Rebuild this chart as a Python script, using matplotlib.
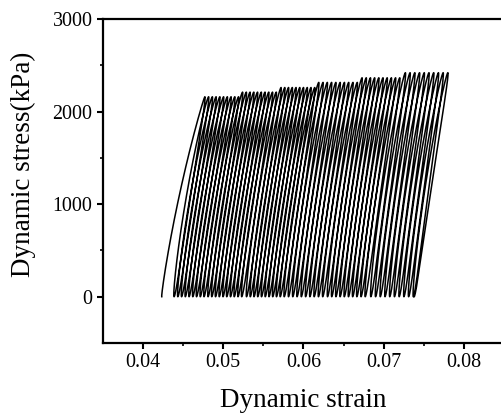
import numpy as np
import matplotlib
matplotlib.use("Agg")
import matplotlib.pyplot as plt

plt.rcParams["font.family"] = ["Liberation Serif", "DejaVu Serif"]

# Loading stages: peak stress of each stage (kPa) and the strain at the
# first and last peak of the stage
stage_peak_stress = [2160, 2210, 2260, 2315, 2365, 2420]
stage_first_peak_strain = [0.0477, 0.0524, 0.0572, 0.0619, 0.0673, 0.0727]
stage_last_peak_strain = [0.0519, 0.0566, 0.0614, 0.0667, 0.0720, 0.0780]
cycles_per_stage = [10, 10, 10, 10, 10, 10]

initial_strain = 0.04233      # strain at the start of the first loading
loop_strain_span = 0.0043     # strain range from valley to peak in a cycle
final_valley_strain = 0.0738

x_ticks = [0.04, 0.05, 0.06, 0.07, 0.08]
y_ticks = [0, 1000, 2000, 3000]

# hysteresis branch shape: softening backbone plus a sideways opening
BULGE = 0.00036
SOFTENING = 0.25


def backbone(u):
    return u - SOFTENING * u * (1 - u)


def branch(xa, ya, xb, yb, bulge, n=90):
    t = np.linspace(0, np.pi, n)
    s = (1 - np.cos(t)) / 2
    y = ya + (yb - ya) * s
    top = max(ya, yb)
    fa, fb = backbone(ya / top), backbone(yb / top)
    f = backbone(y / top)
    x = xa + (xb - xa) * (f - fa) / (fb - fa) + bulge * np.sin(t)
    return x, y


# peak of every cycle
peaks = []
for p, a, b, n in zip(stage_peak_stress, stage_first_peak_strain,
                      stage_last_peak_strain, cycles_per_stage):
    for e in np.linspace(a, b, n):
        peaks.append((e, p))

xs, ys = [], []
x, y = branch(initial_strain, 0, peaks[0][0], peaks[0][1], -0.0002)
xs.append(x); ys.append(y)
for k in range(1, len(peaks)):
    pe, pp = peaks[k - 1]
    ne, npk = peaks[k]
    valley = ne - loop_strain_span
    x, y = branch(pe, pp, valley, 0, BULGE)
    xs.append(x[1:]); ys.append(y[1:])
    x, y = branch(valley, 0, ne, npk, -BULGE)
    xs.append(x[1:]); ys.append(y[1:])
pe, pp = peaks[-1]
x, y = branch(pe, pp, final_valley_strain, 0, BULGE)
xs.append(x[1:]); ys.append(y[1:])

strain = np.concatenate(xs)
stress = np.concatenate(ys)

fig = plt.figure(figsize=(5.02, 4.16), dpi=100)
ax = fig.add_axes([103 / 502, 73 / 416, 401 / 502, 324 / 416])
ax.plot(strain, stress, color="black", lw=1.1)

ax.set_xticks(x_ticks)
ax.set_xticklabels([f"{v:.2f}" for v in x_ticks])
ax.set_yticks(y_ticks)
ax.set_xticks([0.045, 0.055, 0.065, 0.075], minor=True)
ax.set_yticks([500, 1500, 2500], minor=True)
ax.set_xlim(0.035, 0.085)
ax.set_ylim(-500, 3000)

for sp in ax.spines.values():
    sp.set_linewidth(1.6)
ax.tick_params(which="major", direction="out", length=4, width=1.5,
               labelsize=14.4, pad=3.5)
ax.tick_params(which="minor", direction="out", length=2.5, width=1.2)

ax.set_xlabel("Dynamic strain", fontsize=19.5)
ax.set_ylabel("Dynamic stress(kPa)", fontsize=19.5)
ax.xaxis.set_label_coords(0.5, -0.138)
ax.yaxis.set_label_coords(-0.167, 0.55)

fig.savefig("out.png", dpi=100)
